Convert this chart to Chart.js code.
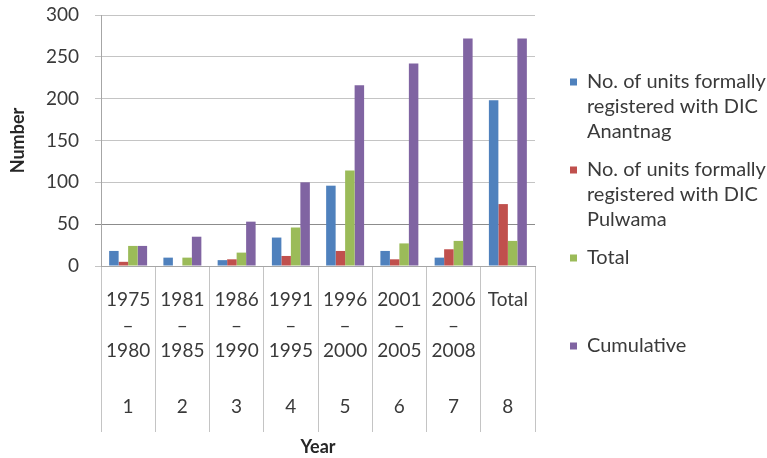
<!DOCTYPE html>
<html>
<head>
<meta charset="utf-8">
<script src="https://cdn.jsdelivr.net/npm/chart.js@4"></script>
<style>
  html, body { margin: 0; padding: 0; background: #fff; }
  #wrap { width: 767px; height: 458px; }
</style>
</head>
<body>
<div id="wrap"><canvas id="c" width="767" height="458"></canvas></div>
<script>
// Period labels (three lines each) and the running index shown beneath them
const periods = [
  ['1975', '–', '1980'],
  ['1981', '–', '1985'],
  ['1986', '–', '1990'],
  ['1991', '–', '1995'],
  ['1996', '–', '2000'],
  ['2001', '–', '2005'],
  ['2006', '–', '2008'],
  ['Total']
];
const periodIndex = ['1', '2', '3', '4', '5', '6', '7', '8'];

// Units registered per period
const anantnag   = [18, 10, 7, 34, 96, 18, 10, 198];
const pulwama    = [5, 0, 8, 12, 18, 8, 20, 74];
const totalUnits = [24, 10, 16, 46, 114, 27, 30, 30];
const cumulative = [24, 35, 53, 100, 216, 242, 272, 272];

const seriesLegend = [
  ['No. of units formally', 'registered with DIC', 'Anantnag'],
  ['No. of units formally', 'registered with DIC', 'Pulwama'],
  ['Total'],
  ['Cumulative']
];

const yTicks = [0, 50, 100, 150, 200, 250, 300];

const FONT = 'Lato, "Open Sans", sans-serif';
const TEXT = '#3a3a3a';
const GRID = '#c4c4c4';

// Side legend with wrapped entries, evenly spaced down the right margin
const sideLegend = {
  id: 'sideLegend',
  afterDraw(chart, args, opts) {
    const ctx = chart.ctx;
    ctx.save();
    ctx.font = opts.fontSize + 'px ' + FONT;
    ctx.textBaseline = 'middle';
    ctx.textAlign = 'left';
    chart.data.datasets.forEach((ds, i) => {
      const y0 = opts.top + i * opts.step;
      ctx.fillStyle = ds.backgroundColor;
      ctx.fillRect(opts.left, y0 - opts.box / 2, opts.box, opts.box);
      ctx.fillStyle = TEXT;
      seriesLegend[i].forEach((line, k) => {
        ctx.fillText(line, opts.left + opts.box + opts.gap, y0 + k * opts.lineHeight);
      });
    });
    ctx.restore();
  }
};

new Chart(document.getElementById('c'), {
  type: 'bar',
  data: {
    labels: periods,
    datasets: [
      { label: seriesLegend[0].join(' '), data: anantnag,   backgroundColor: '#4F81BD' },
      { label: seriesLegend[1].join(' '), data: pulwama,    backgroundColor: '#C0504D' },
      { label: seriesLegend[2].join(' '), data: totalUnits, backgroundColor: '#9BBB59' },
      { label: seriesLegend[3].join(' '), data: cumulative, backgroundColor: '#8064A2' }
    ]
  },
  plugins: [sideLegend],
  options: {
    responsive: false,
    animation: false,
    events: [],
    layout: { padding: { top: 15, right: 232, bottom: 0, left: 0 } },
    datasets: { bar: { categoryPercentage: 0.7, barPercentage: 1.0, borderWidth: 0 } },
    plugins: {
      legend: { display: false },
      tooltip: { enabled: false },
      sideLegend: { left: 570, top: 82, step: 88, lineHeight: 25, box: 7, gap: 10, fontSize: 20 }
    },
    scales: {
      y: {
        min: 0,
        max: 300,
        afterBuildTicks(axis) { axis.ticks = yTicks.map(v => ({ value: v })); },
        afterFit(axis) {
          axis.width = 101;
          axis.paddingTop = 0;
          axis.paddingBottom = 0;
        },
        border: { display: true, color: '#a6a6a6', width: 1 },
        grid: {
          color: ctx => (ctx.tick && ctx.tick.value === 50) ? '#8c8c8c' : GRID,
          tickLength: 6,
          lineWidth: 1
        },
        ticks: { color: TEXT, font: { family: FONT, size: 19 }, padding: 16 },
        title: {
          display: true,
          text: 'Number',
          color: '#262626',
          font: { family: FONT, size: 18, weight: 'bold' },
          padding: { top: 7, bottom: 0 }
        }
      },
      x: {
        weight: 0,
        afterFit(axis) { axis.height = 119; },
        border: { display: true, color: '#a6a6a6', width: 1 },
        grid: { offset: true, drawOnChartArea: false, drawTicks: true, tickLength: 119, color: GRID },
        ticks: {
          color: TEXT,
          font: { family: FONT, size: 19, lineHeight: '25.5px' },
          padding: -97.75,
          maxRotation: 0,
          autoSkip: false
        }
      },
      x2: {
        type: 'category',
        position: 'bottom',
        weight: 1,
        labels: periodIndex,
        offset: true,
        afterFit(axis) { axis.height = 73; },
        border: { display: false },
        grid: { offset: true, drawOnChartArea: false, drawTicks: true, tickLength: 47, color: GRID },
        ticks: {
          color: TEXT,
          font: { family: FONT, size: 19, lineHeight: '25.5px' },
          padding: -37.75,
          maxRotation: 0,
          autoSkip: false
        },
        title: {
          display: true,
          text: 'Year',
          color: '#262626',
          font: { family: FONT, size: 18, weight: 'bold' },
          padding: { top: 0, bottom: 0 }
        }
      }
    }
  }
});
</script>
</body>
</html>
